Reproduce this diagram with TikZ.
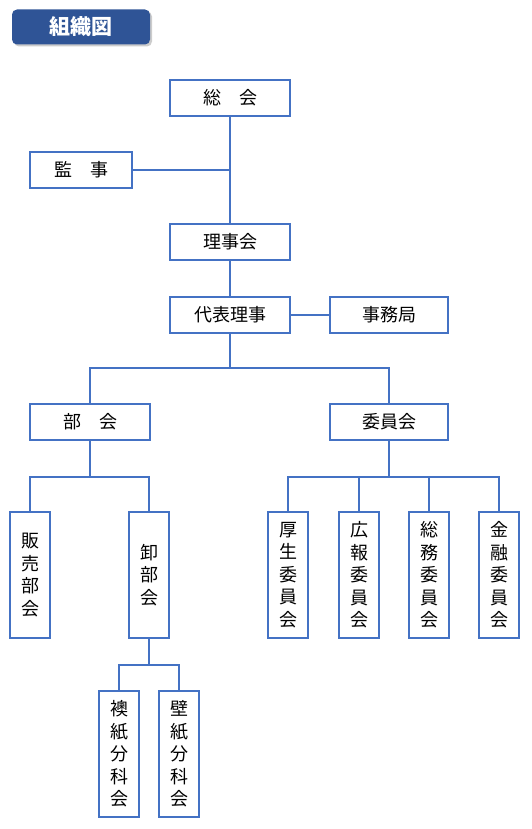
\documentclass[tikz,border=0pt]{standalone}
\usepackage{fontspec}
\setmainfont{Noto Sans CJK JP}
\usetikzlibrary{positioning, shadows}

\definecolor{orgline}{RGB}{68,114,196}
\definecolor{titleblue}{RGB}{47,84,150}

\begin{document}
\begin{tikzpicture}[
    x=1pt, y=-1pt,
    box/.style={draw=orgline, line width=2pt, fill=white, minimum width=120pt, minimum height=36pt,
                font=\fontsize{18}{22}\selectfont, align=center, inner sep=0pt},
    vbox/.style={draw=orgline, line width=2pt, fill=white, minimum width=40pt, minimum height=126pt,
                font=\fontsize{18}{22.5}\selectfont, align=center, inner sep=0pt},
    link/.style={draw=orgline, line width=2pt},
    title/.style={fill=titleblue, rounded corners=5pt, minimum width=138pt, minimum height=35pt,
                  text=white, font=\fontsize{21}{24}\selectfont\bfseries,
                  drop shadow={shadow xshift=2pt, shadow yshift=-2pt, opacity=0.4}}
  ]
    \useasboundingbox (0,0) rectangle (531,829);

    % Title
    \node[title] (ttl) at (81,27) {組織図};

    % Upper chain
    \node[box] (soukai)  at (230, 98)  {総　会};
    \node[box, minimum width=102pt] (kanji) at (81,170) {監　事};
    \node[box] (rijikai) at (230,242) {理事会};
    \node[box] (daihyo)  at (230,315) {代表理事};
    \node[box, minimum width=118pt] (jimu) at (389,315) {事務局};

    % Second level
    \node[box] (bukai)   at (90,422)  {部　会};
    \node[box, minimum width=118pt] (iinkai) at (389,422) {委員会};

    % Sections
    \node[vbox] (hanbai) at (30,575)  {販\\売\\部\\会};
    \node[vbox] (oroshi) at (149,575) {卸\\部\\会};
    \node[vbox] (fusuma) at (119,754) {襖\\紙\\分\\科\\会};
    \node[vbox] (kabe)   at (179,754) {壁\\紙\\分\\科\\会};

    % Committees
    \node[vbox] (kousei) at (288,575) {厚\\生\\委\\員\\会};
    \node[vbox] (kouhou) at (359,575) {広\\報\\委\\員\\会};
    \node[vbox] (soumu)  at (429,575) {総\\務\\委\\員\\会};
    \node[vbox] (kinyu)  at (499,575) {金\\融\\委\\員\\会};

    % Branch points
    \coordinate (brtop)  at (230,368);
    \coordinate (brbu)   at (90,477);
    \coordinate (briin)  at (389,477);
    \coordinate (brorsh) at (149,665);

    % Connectors
    \draw[link] (soukai.south) -- (rijikai.north);
    \draw[link] (kanji.east) -- (kanji.east -| soukai.south);
    \draw[link] (rijikai.south) -- (daihyo.north);
    \draw[link] (daihyo.east) -- (jimu.west);
    \draw[link] (daihyo.south) -- (brtop);
    \draw[link] (bukai.north) |- (brtop) -| (iinkai.north);
    \draw[link] (bukai.south) -- (brbu);
    \draw[link] (hanbai.north) |- (brbu) -| (oroshi.north);
    \draw[link] (iinkai.south) -- (briin);
    \draw[link] (kousei.north) |- (briin) -| (kinyu.north);
    \draw[link] (kouhou.north) -- (kouhou.north |- briin);
    \draw[link] (soumu.north) -- (soumu.north |- briin);
    \draw[link] (oroshi.south) -- (brorsh);
    \draw[link] (fusuma.north) |- (brorsh) -| (kabe.north);
\end{tikzpicture}
\end{document}
